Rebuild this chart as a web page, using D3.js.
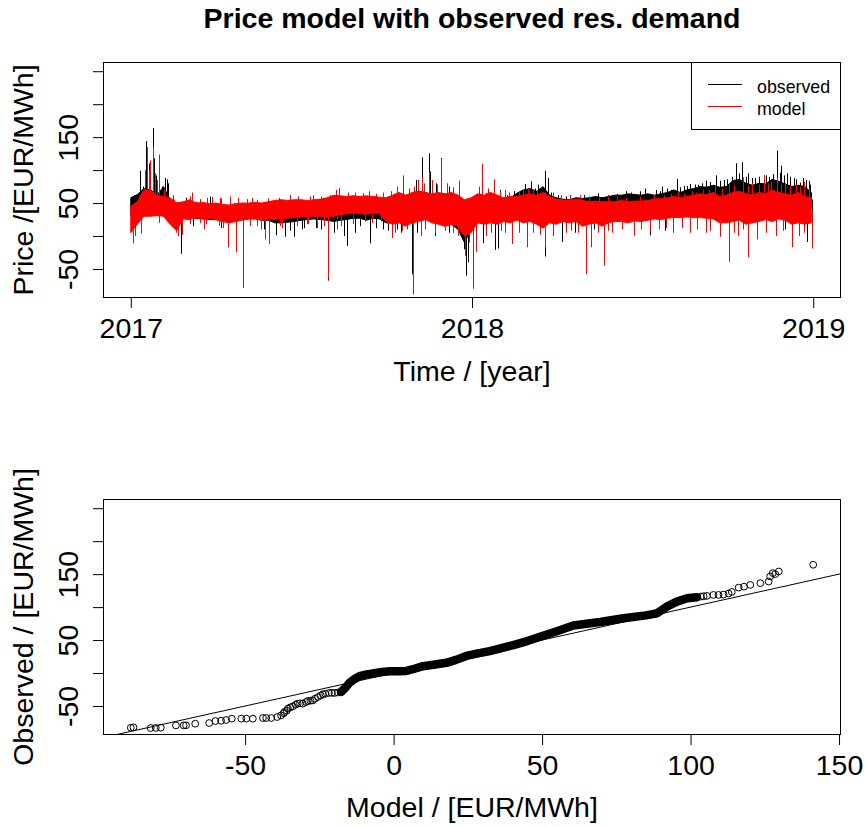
<!DOCTYPE html>
<html>
<head>
<meta charset="utf-8">
<script src="https://cdn.jsdelivr.net/npm/d3@7"></script>
<style>
  html, body { margin: 0; padding: 0; background: #fff; }
  svg { display: block; font-family: "Liberation Sans", Arial, sans-serif; }
</style>
</head>
<body>
<svg id="chart" width="865" height="827"></svg>
<script>
// ---------------- data ----------------
const chartTitle = "Price model with observed res. demand";
const seriesNames = ["observed", "model"];

// time axis (hourly series, 2017-01-01 00:00 .. 2018-12-31 23:00)
const yearTicks = ["2017-01-01", "2018-01-01", "2019-01-01"];
const priceLim = [-80, 250];
const priceTicks = [-50, 0, 50, 100, 150, 200, 250];
const priceTickLabels = [-50, 50, 150];
const modelTicks = [-50, 0, 50, 100, 150];

// weekly hourly-price band (week k starts on day 7k), EUR/MWh
const obsLow = [30,30,33,33,32,35,25,15,28,27, 27,26,25,25,23,24,25,25,26,26,
  24,24,20,20,21,22,24,25,26,25, 24,22,24,25,27,27,24,27,26,20,
  20,22,20,25,28,28,25,20,15,18, 10,-10,10,25,22,25,20,28,25,30,
  28,30,28,25,30,28,30,28,28,25, 28,27,28,30,35,36,35,38,36,38,
  40,42,45,45,45,48,48,50,48,45, 40,40,45,48,40,42,45,50,50,52, 48,45,45,40,45];
const obsHigh = [58,63,72,70,62,75,55,50,50,50, 48,47,46,47,46,45,46,47,48,47,
  46,47,45,44,44,46,47,46,48,47, 50,52,45,44,43,42,42,43,44,45,
  50,55,52,65,68,66,62,64,58,60, 55,45,50,58,60,60,55,56,58,65,
  70,72,68,75,62,58,56,55,58,57, 58,60,58,60,62,62,64,63,62,64,
  62,64,66,70,66,70,72,75,74,77, 74,75,84,86,80,77,80,79,86,83, 79,75,77,75,66];
const modLow = [5,18,30,30,31,30,18,8,26,25, 28,26,27,25,22,20,22,24,26,27,
  24,26,25,27,27,28,29,30,30,30, 29,30,32,34,35,34,33,35,34,22,
  18,20,15,20,22,25,20,18,15,18, 15,0,5,20,18,20,18,22,20,24,
  20,22,18,12,20,18,22,20,22,15, 18,20,15,20,22,22,20,23,22,24,
  26,25,27,28,28,29,28,28,27,26, 20,20,22,24,18,20,22,25,22,26, 24,18,20,18,20];
const modHigh = [45,52,70,68,62,60,58,50,52,55, 50,51,49,50,48,47,49,50,50,51,
  50,52,54,55,54,55,55,54,55,56, 58,62,61,60,61,60,61,60,59,58,
  62,66,62,66,68,66,64,66,64,66, 62,55,58,64,62,66,62,58,60,60,
  62,64,62,66,60,56,55,54,56,54, 52,53,52,52,52,54,52,53,53,54,
  56,57,58,60,58,60,62,64,63,66, 60,62,66,68,64,62,66,64,70,66, 64,62,66,60,58];

// single-hour excursions: day since 2017-01-01 and price
const obsSpikeDay = [3,10,13,16,17,20,23.5,25,27,33,37,38.5,40,59,85,160,215,248,296,305,
  311,318.6,320,326,332,340,395,410,422,428.6,436,443,446,470,500,530,550,568,583.8,592,
  598,607,615,625.6,635,647.7,654,660,668,677,683,690.9,696,702,709,716,722,727,
  5,53.9,50,120.3,155,165,175,183,198,210.8,231,240,255.5,270,289,300.5,306,325,340,356,
  358.7,361,376.6,390,393,415,443.3,461,475,495,538,555,571,630.3,660,700,723,729,
  562,566,574,578,588,595,603,611,620,630,638,643,651,658,664,672,680,687,694,699,705,712,719,725,
  380,386,402,418,432,450,457,466,485,510,520,535,545,
  45,70,90,110,130,150,180,200,225,260,280,
  67,78,97,142,170,185,203,217,228,245,262,275,285];
const obsSpikeVal = [62,99,75,144,125,110,164,118,92,75,88,86,80,58,60,55,60,50,62,85,
  119.5,125.7,98,80,118.5,75,70,68,79,83,78,99,88,62,65,68,72,75,86.7,76,
  79,78,84,92,85,110.5,112,95,88,92,90,129.7,106.8,95,88,81,85,78,
  15,-27,0,-67.5,1,-1,-1,10,12,-67.5,-15,5,-11,10,5,-58,5,0,5,-20,
  -60,-40,-11,-21,-19,8,-31,-9,5,10,1,1,8,0,20,10,-9,20,
  70,68,72,70,74,76,78,80,82,84,86,90,95,90,88,90,92,94,96,92,90,86,88,84,
  65,64,62,70,72,66,62,60,62,62,64,66,68,
  55,52,50,50,50,50,50,52,50,48,55,
  15,13,12,10,8,12,10,5,0,15,12,8,10];
const modSpikeDay = [9,15,17,19,21,24,26,28,29.8,30.7,35,45,65,95,130,170,195,213,220,223,
  232,262,285,291,298,302.5,307,311,314,318.6,322,328,332,338,345,351,372,375.8,382,389,
  400,415,425,435,443,452,480,520,560,585,600,612,625,640,655,665,677,685,691,700,712,720,
  2,4,10.7,30,42,48,51,55,80,104.5,112,120,135,144,147.6,160,190,210.5,225,250,
  279,283,295,302,310,336,350,358,362,365.8,368.8,380,400,408,424,443,452,465,486.4,492,
  500,506,515,538.6,555,580,598,615,630,639.8,650,660.6,670,690,707.6,715,729,
  46,63,74,81,87,96,106,115,124,135,147,158,170.5,179,192,203,240,248,255,270,278,
  395,405,420,430,460,470,490,500.5,510,530,545,570,578,592,605,618,632,645,660,672,682,696,705,716,725,
  63.5,74.5,78,94,99,128,139,162,178,189,199,207,221,238,258,268,290,315,325,345,
  385,395.5,415.5,430.5,438,470.5,478,510.5,525,545.5,565,572,590,605.5,620,645,655,680,698,720];
const modSpikeVal = [62,100,134.7,100,115,134.7,95,85,80,123.6,70,62,66,58,58,62,62,62,70,73,
  66,64,75,92,72,75,85,90,80,97,85,78,117,80,74,84,75,109.5,72,86,
  70,68,72,70,66,66,62,60,62,68,68,70,77,80,89,80,92,82,89,80,78,82,
  -11,0,4,20,20,5,0,2,18,-17,-24.5,-78.6,15,-5,-12,15,18,-65,15,22,
  -3,5,10,-88.7,0,8,0,-30,-10,-80,-24,0,5,-12,-17,-17,0,5,-58,-17,
  5,-44.7,5,1,8,5,5,5,-1,-39,0,-32,-5,0,-17,0,-19,
  55,60,56,58,59,57,60,58,56,55,57,58,62,60,60,60,66,65,68,66,68,
  68,66,70,70,62,60,60,58,60,58,60,62,64,64,66,70,72,76,76,78,80,78,76,75,72,
  18,20,10,15,12,15,10,12,15,18,12,15,10,18,20,22,8,10,5,5,
  5,8,5,5,2,8,5,8,10,10,10,12,12,10,8,5,10,5,8,5];

// quantile pairs (model quantile, observed quantile), EUR/MWh
const qqLowModel = [-88.5,-87.6,-81.8,-80.1,-78.4,-73.3,-70.7,-69.9,-66.8,-62.1,-60.0,-58.1,-56.4,-54.5,
  -51.3,-49.6,-47.4,-44.0,-42.9,-41.2,-39.2,-37.9,-37.0,-36.8,-36.0,-35.6,-34.8,-33.9,-33.0,
  -32.3,-31.5,-30.6,-29.5,-28.9,-28.0,-27.2,-26.5,-25.5,-24.5,-23.8,-23.0,-21.8,-20.8,-19.9,-18.8];
const qqLowObs = [-82.9,-82.4,-83.4,-83.2,-82.9,-79.4,-79.4,-79.2,-76.8,-75.8,-72.8,-72.3,-71.3,-69.2,
  -69.2,-69.2,-69.2,-68.2,-68.2,-68.2,-66.7,-64.2,-61.0,-59.1,-57.0,-54.0,-52.0,-50.5,-48.0,
  -46.4,-46.0,-46.4,-44.0,-42.4,-42.0,-41.5,-39.0,-36.3,-34.0,-32.2,-31.5,-30.2,-30.0,-30.2,-29.5];
const qqDenseModel = [-17.7,-16.0,-14.8,-13.0,-11.5,-9.0,-7.0,-4.0,-1.3,2.0,4.3,7.0,9.9,14.0,17.8,
  21.0,24.5,28.0,32.4,36.0,40.3,45.0,49.3,55.0,60.5,69.5,77.4,85.0,88.6,90.5,92.0,95.4,98.8,102.1];
const qqDenseObs = [-28.7,-21.0,-14.5,-8.5,-4.8,-2.0,-0.7,1.5,2.8,2.8,3.2,6.5,10.4,13.0,15.5,
  20.0,26.0,29.5,33.3,37.5,42.4,48.5,55.0,63.5,72.0,77.4,83.0,87.5,90.6,96.0,100.7,108.3,113.4,115.0];
const qqHighModel = [103.5,104.4,105.5,107.7,109.4,111.1,112.8,113.9,116.2,118.0,120.1,123.5,
  126.3,126.8,127.7,128.5,129.7,141.3];
const qqHighObs = [116.0,116.5,117.0,118.5,118.5,119.0,120.7,123.0,129.6,131.0,133.7,136.3,
  138.8,146.4,151.5,150.0,154.0,164.2];

// ---------------- layout ----------------
const svg = d3.select("#chart");
const fontPx = 28.5;
const panelTop = { left: 103.5, right: 840.5, top: 62.5, bottom: 297.5 };
const panelBot = { left: 103.5, right: 840.5, top: 499.5, bottom: 734.5 };
const tickLen = 10.5;

const expand = (lo, hi) => { const p = 0.04 * (hi - lo); return [lo - p, hi + p]; };

// ---------------- scales ----------------
const DAY = 86400000;
const t0 = Date.UTC(2017, 0, 1);
const tEnd = t0 + (730 * 24 - 1) * 3600000;
const dayToDate = d => new Date(t0 + d * DAY);

const xTime = d3.scaleUtc()
  .domain(expand(t0, tEnd).map(v => new Date(v)))
  .range([panelTop.left, panelTop.right]);
const yTop = d3.scaleLinear().domain(expand(...priceLim)).range([panelTop.bottom, panelTop.top]);
const yBot = d3.scaleLinear().domain(expand(...priceLim)).range([panelBot.bottom, panelBot.top]);

const allModelQ = qqLowModel.concat(qqDenseModel, qqHighModel);
const xModel = d3.scaleLinear()
  .domain(expand(d3.min(allModelQ), d3.max(allModelQ)))
  .range([panelBot.left, panelBot.right]);

// ---------------- title ----------------
svg.append("text")
  .attr("x", (panelTop.left + panelTop.right) / 2).attr("y", 28)
  .attr("text-anchor", "middle")
  .style("font-size", fontPx + "px").style("font-weight", "bold")
  .text(chartTitle);

// ---------------- helpers ----------------
function styleAxis(g) {
  g.select(".domain").remove();
  g.selectAll(".tick line").attr("stroke", "#000").attr("stroke-width", 1);
  g.selectAll(".tick text").attr("fill", "#000").style("font-size", fontPx + "px");
}
function bottomAxis(scale, values, fmt, panel) {
  const g = svg.append("g").attr("transform", `translate(0,${panel.bottom})`)
    .call(d3.axisBottom(scale).tickValues(values).tickFormat(fmt).tickSize(tickLen))
    .call(styleAxis);
  g.selectAll(".tick text").attr("y", 40).attr("dy", null);
}
function leftAxis(scale, panel) {
  const g = svg.append("g").attr("transform", `translate(${panel.left},0)`)
    .call(d3.axisLeft(scale).tickValues(priceTicks)
      .tickFormat(v => priceTickLabels.includes(v) ? String(v) : "")
      .tickSize(tickLen))
    .call(styleAxis);
  g.selectAll(".tick text")
    .attr("transform", "rotate(-90)")
    .attr("x", 0).attr("y", -25.5).attr("dy", null)
    .attr("text-anchor", "middle");
}
function box(panel) {
  svg.append("rect")
    .attr("x", panel.left).attr("y", panel.top)
    .attr("width", panel.right - panel.left).attr("height", panel.bottom - panel.top)
    .attr("fill", "none").attr("stroke", "#000").attr("stroke-width", 1);
}
function clip(id, panel) {
  svg.append("clipPath").attr("id", id).append("rect")
    .attr("x", panel.left).attr("y", panel.top)
    .attr("width", panel.right - panel.left).attr("height", panel.bottom - panel.top);
}
function yLabel(text, panel) {
  svg.append("text")
    .attr("transform", `translate(32.5,${(panel.top + panel.bottom) / 2}) rotate(-90)`)
    .attr("text-anchor", "middle").style("font-size", fontPx + "px")
    .text(text);
}
function xLabel(text, y) {
  svg.append("text")
    .attr("x", (panelTop.left + panelTop.right) / 2).attr("y", y)
    .attr("text-anchor", "middle").style("font-size", fontPx + "px")
    .text(text);
}

// ---------------- top panel: price series ----------------
clip("clipTop", panelTop);
const seriesLayer = svg.append("g").attr("clip-path", "url(#clipTop)");

function drawSeries(low, high, spikeDay, spikeVal, color) {
  const band = d3.area()
    .x((d, i) => xTime(dayToDate(7 * i)))
    .y0((d, i) => yTop(low[i]))
    .y1((d, i) => yTop(high[i]));
  seriesLayer.append("path")
    .datum(low)
    .attr("d", band)
    .attr("fill", color).attr("stroke", color).attr("stroke-width", 1);
  seriesLayer.append("g").selectAll("line")
    .data(spikeDay)
    .join("line")
    .attr("x1", d => Math.round(xTime(dayToDate(d))) + 0.5)
    .attr("x2", d => Math.round(xTime(dayToDate(d))) + 0.5)
    .attr("y1", d => {
      const k = Math.min(low.length - 1, Math.floor(d / 7));
      return yTop((low[k] + high[k]) / 2);
    })
    .attr("y2", (d, i) => yTop(spikeVal[i]))
    .attr("stroke", color).attr("stroke-width", 1);
}
drawSeries(obsLow, obsHigh, obsSpikeDay, obsSpikeVal, "#000000");
drawSeries(modLow, modHigh, modSpikeDay, modSpikeVal, "#ff0000");

box(panelTop);
bottomAxis(xTime, yearTicks.map(s => new Date(s + "T00:00:00Z")), d3.utcFormat("%Y"), panelTop);
leftAxis(yTop, panelTop);
xLabel("Time / [year]", 380.5);
yLabel("Price /[EUR/MWh]", panelTop);

// legend
const legend = svg.append("g");
legend.append("rect")
  .attr("x", 691.5).attr("y", panelTop.top)
  .attr("width", panelTop.right - 691.5).attr("height", 129.5 - panelTop.top)
  .attr("fill", "#fff").attr("stroke", "#000").attr("stroke-width", 1);
[["#000000", 84.5, 92.5], ["#ff0000", 106.5, 114.5]].forEach((row, i) => {
  legend.append("line")
    .attr("x1", 708).attr("x2", 742).attr("y1", row[1]).attr("y2", row[1])
    .attr("stroke", row[0]).attr("stroke-width", 1);
  legend.append("text")
    .attr("x", 757).attr("y", row[2])
    .style("font-size", "17.8px")
    .text(seriesNames[i]);
});

// ---------------- bottom panel: quantile plot ----------------
clip("clipBot", panelBot);
const qqLayer = svg.append("g").attr("clip-path", "url(#clipBot)");

// reference line observed = model
const xd = xModel.domain();
qqLayer.append("line")
  .attr("x1", xModel(xd[0])).attr("y1", yBot(xd[0]))
  .attr("x2", xModel(xd[1])).attr("y2", yBot(xd[1]))
  .attr("stroke", "#000").attr("stroke-width", 1);

// the central quantiles overlap into a solid run of symbols
qqLayer.append("path")
  .datum(qqDenseModel)
  .attr("d", d3.line().x(d => xModel(d)).y((d, i) => yBot(qqDenseObs[i])))
  .attr("fill", "none").attr("stroke", "#000")
  .attr("stroke-width", 8.5).attr("stroke-linecap", "round").attr("stroke-linejoin", "round");

const qqPts = qqLowModel.map((m, i) => [m, qqLowObs[i]])
  .concat(qqDenseModel.map((m, i) => [m, qqDenseObs[i]]))
  .concat(qqHighModel.map((m, i) => [m, qqHighObs[i]]));
qqLayer.append("g").selectAll("circle")
  .data(qqPts)
  .join("circle")
  .attr("cx", d => xModel(d[0])).attr("cy", d => yBot(d[1]))
  .attr("r", 3.4)
  .attr("fill", "none").attr("stroke", "#000").attr("stroke-width", 1);

box(panelBot);
bottomAxis(xModel, modelTicks, d => String(d), panelBot);
leftAxis(yBot, panelBot);
xLabel("Model / [EUR/MWh]", 817);
yLabel("Observed / [EUR/MWh]", panelBot);
</script>
</body>
</html>
